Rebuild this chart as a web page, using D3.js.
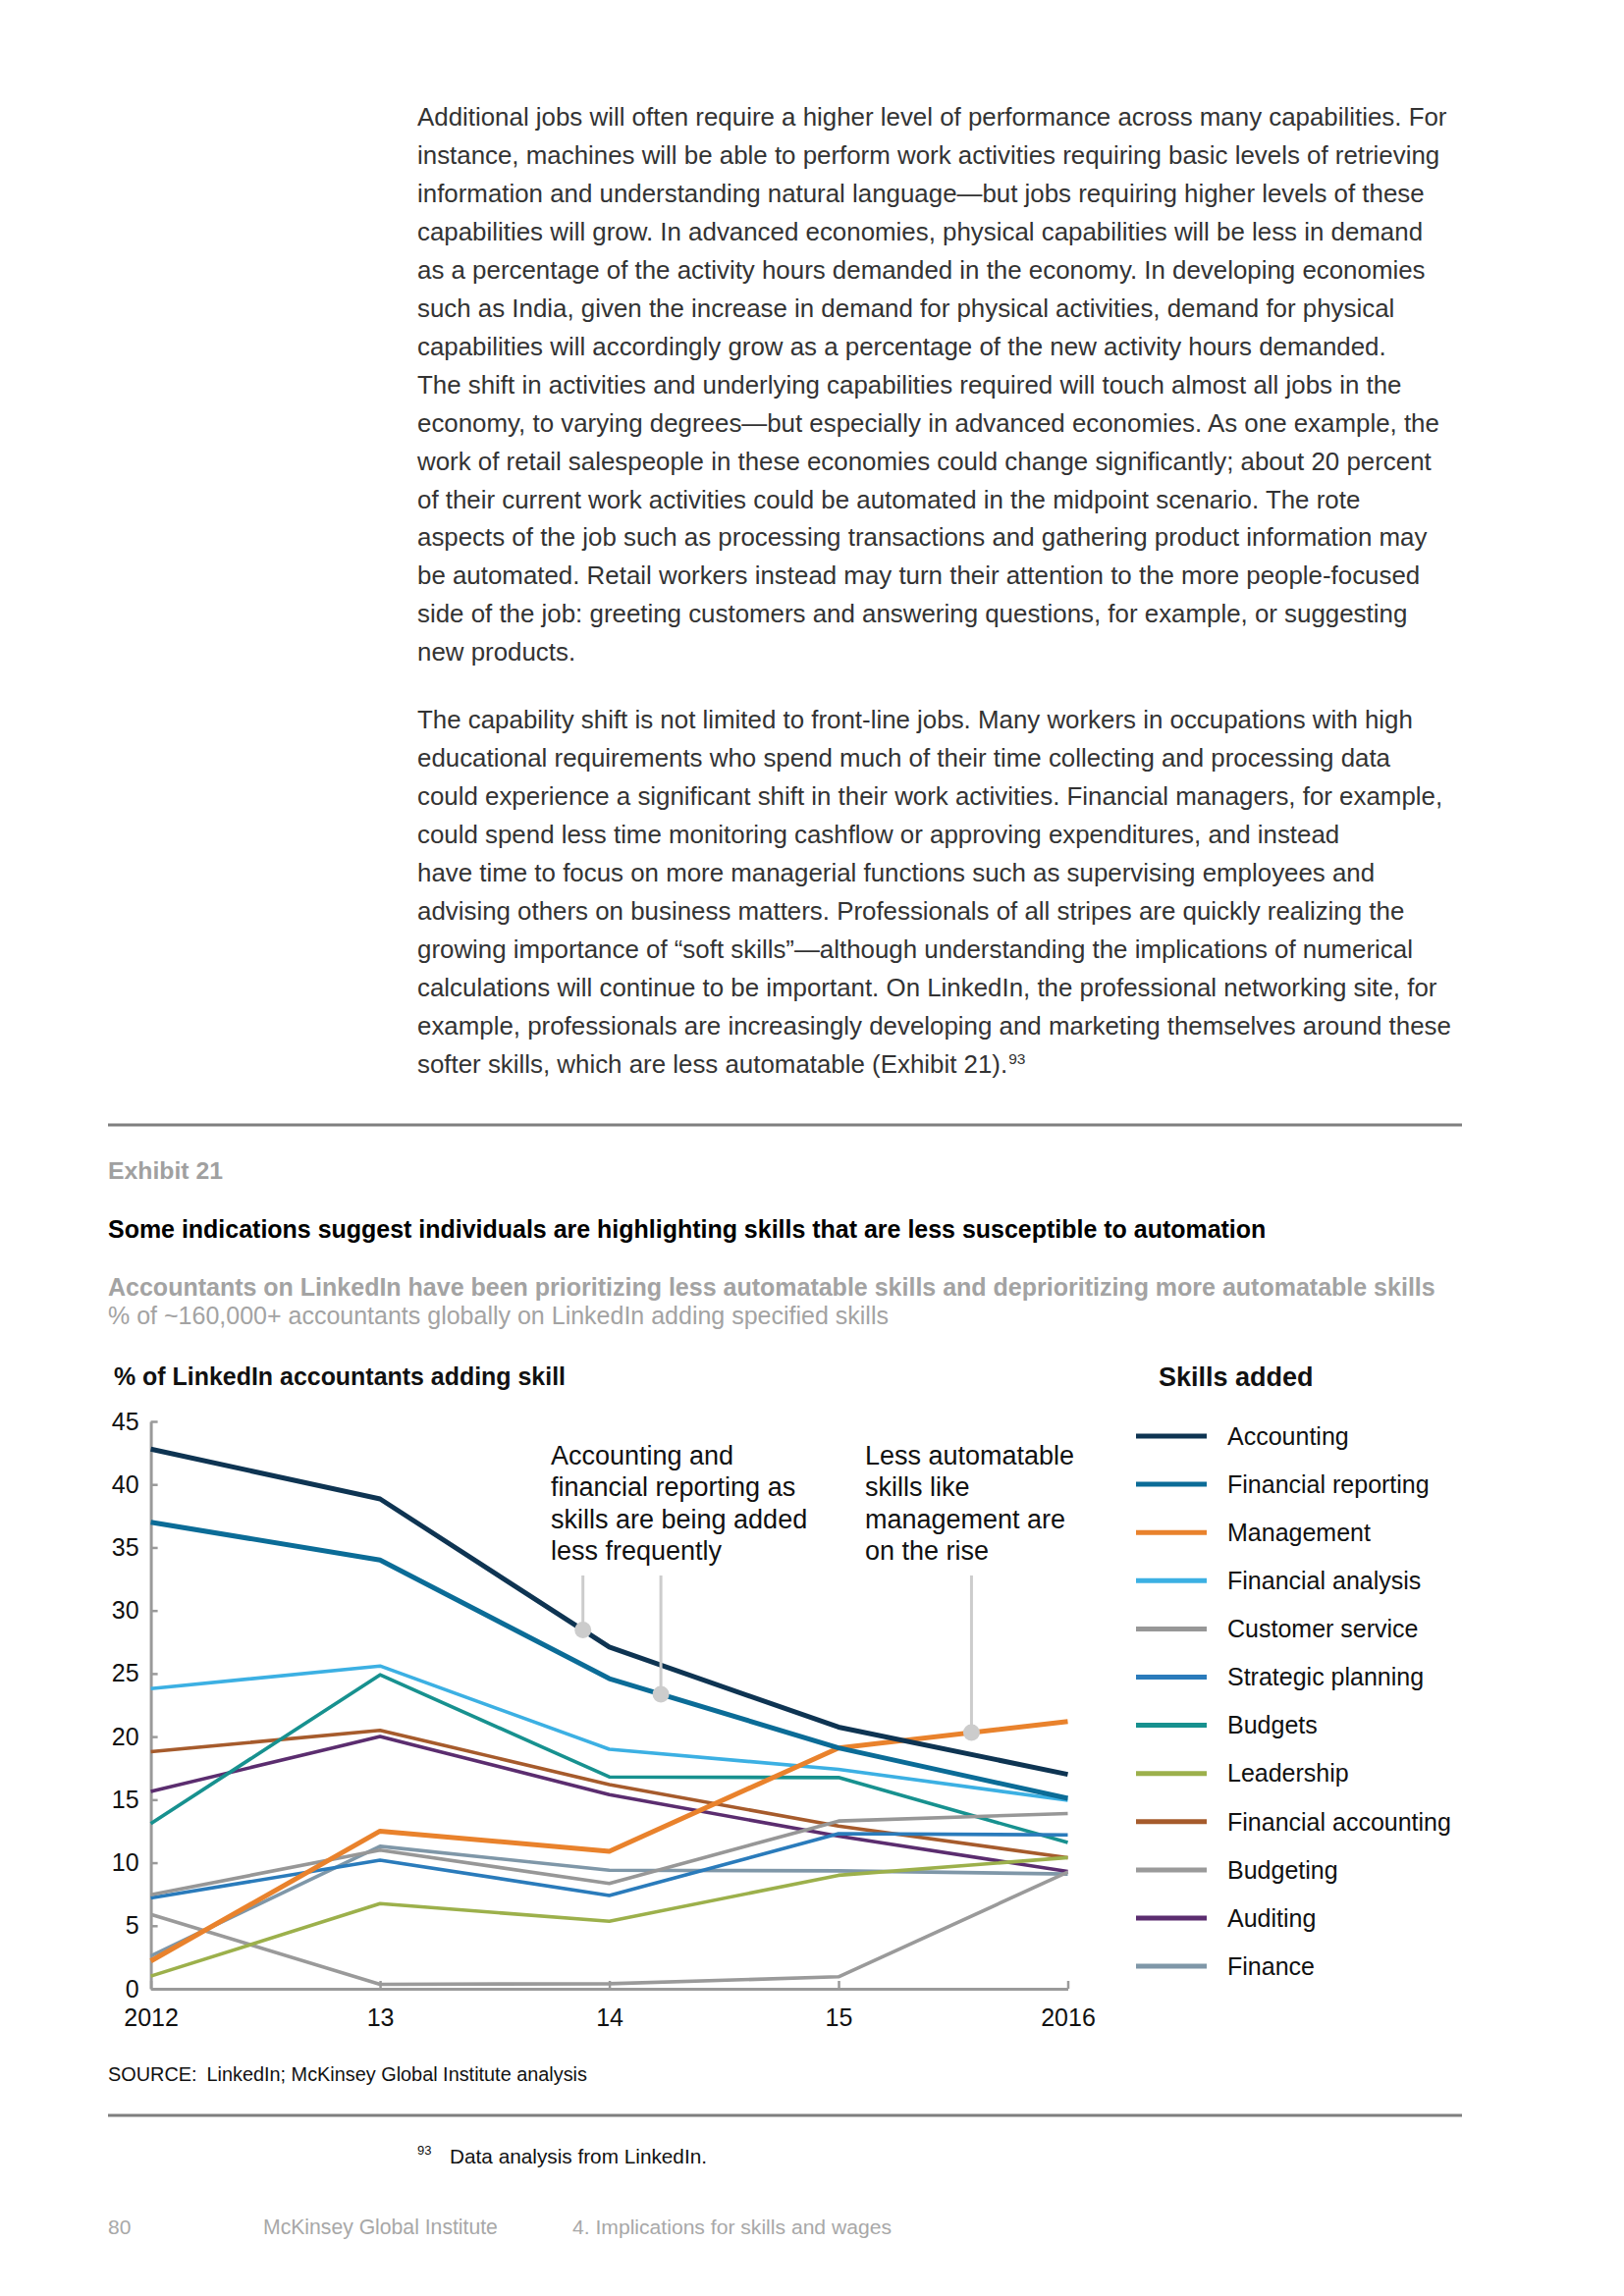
<!DOCTYPE html>
<html>
<head>
<meta charset="utf-8">
<script src="https://cdn.jsdelivr.net/npm/d3@7"></script>
<style>
  html, body { margin: 0; padding: 0; background: #fff; }
  svg { display: block; }
  text { font-family: "Liberation Sans", Arial, Helvetica, sans-serif; }
</style>
</head>
<body>
<div id="page"></div>
<script>
// ---------------- DATA ----------------
const years = [2012, 2013, 2014, 2015, 2016];
const yearLabels = ["2012", "13", "14", "15", "2016"];
const yTicks = [0, 5, 10, 15, 20, 25, 30, 35, 40, 45];

const skills = ["Accounting", "Financial reporting", "Management", "Financial analysis",
  "Customer service", "Strategic planning", "Budgets", "Leadership",
  "Financial accounting", "Budgeting", "Auditing", "Finance"];

const accounting          = [42.8, 38.85, 27.1, 20.75, 17.0];
const financialReporting  = [37.0, 34.0, 24.6, 19.1, 15.1];
const management          = [2.2, 12.5, 10.9, 19.1, 21.2];
const financialAnalysis   = [23.8, 25.6, 19.0, 17.4, 14.95];
const customerService     = [7.45, 11.0, 8.35, 13.3, 13.9];
const strategicPlanning   = [7.2, 10.2, 7.4, 12.3, 12.2];
const budgets             = [13.1, 24.9, 16.8, 16.75, 11.6];
const leadership          = [1.0, 6.75, 5.35, 9.0, 10.4];
const financialAccounting = [18.8, 20.5, 16.2, 12.9, 10.4];
const budgeting           = [5.9, 0.35, 0.4, 0.95, 9.25];
const auditing            = [15.65, 20.0, 15.4, 12.1, 9.3];
const finance             = [2.6, 11.3, 9.4, 9.35, 9.1];

const seriesValues = [accounting, financialReporting, management, financialAnalysis,
  customerService, strategicPlanning, budgets, leadership,
  financialAccounting, budgeting, auditing, finance];

const skillColors = ["#0e3452", "#0b6c97", "#e9822c", "#3cb0e3",
  "#979797", "#2a7bbb", "#17918f", "#9cb04b",
  "#a65b2c", "#9a9a9a", "#5b2d6f", "#7f97a8"];

const annotationTexts = [
  ["Accounting and", "financial reporting as", "skills are being added", "less frequently"],
  ["Less automatable", "skills like", "management are", "on the rise"]
];
const callouts = [
  { skill: "Accounting", year: 2013.885 },
  { skill: "Financial reporting", year: 2014.225 },
  { skill: "Management", year: 2015.58 }
];

const bodyP1 = [
  "Additional jobs will often require a higher level of performance across many capabilities. For",
  "instance, machines will be able to perform work activities requiring basic levels of retrieving",
  "information and understanding natural language\u2014but jobs requiring higher levels of these",
  "capabilities will grow. In advanced economies, physical capabilities will be less in demand",
  "as a percentage of the activity hours demanded in the economy. In developing economies",
  "such as India, given the increase in demand for physical activities, demand for physical",
  "capabilities will accordingly grow as a percentage of the new activity hours demanded.",
  "The shift in activities and underlying capabilities required will touch almost all jobs in the",
  "economy, to varying degrees\u2014but especially in advanced economies. As one example, the",
  "work of retail salespeople in these economies could change significantly; about 20 percent",
  "of their current work activities could be automated in the midpoint scenario. The rote",
  "aspects of the job such as processing transactions and gathering product information may",
  "be automated. Retail workers instead may turn their attention to the more people-focused",
  "side of the job: greeting customers and answering questions, for example, or suggesting",
  "new products."
];
const bodyP2 = [
  "The capability shift is not limited to front-line jobs. Many workers in occupations with high",
  "educational requirements who spend much of their time collecting and processing data",
  "could experience a significant shift in their work activities. Financial managers, for example,",
  "could spend less time monitoring cashflow or approving expenditures, and instead",
  "have time to focus on more managerial functions such as supervising employees and",
  "advising others on business matters. Professionals of all stripes are quickly realizing the",
  "growing importance of \u201csoft skills\u201d\u2014although understanding the implications of numerical",
  "calculations will continue to be important. On LinkedIn, the professional networking site, for",
  "example, professionals are increasingly developing and marketing themselves around these",
  "softer skills, which are less automatable (Exhibit 21)."
];

const exhibitLabel = "Exhibit 21";
const exhibitTitle = "Some indications suggest individuals are highlighting skills that are less susceptible to automation";
const exhibitSub1 = "Accountants on LinkedIn have been prioritizing less automatable skills and deprioritizing more automatable skills";
const exhibitSub2 = "% of ~160,000+ accountants globally on LinkedIn adding specified skills";
const yTitle = "% of LinkedIn accountants adding skill";
const legendTitle = "Skills added";

// ---------------- DRAW ----------------
const W = 1654, H = 2339;
const svg = d3.select("#page").append("svg").attr("width", W).attr("height", H);
svg.append("rect").attr("width", W).attr("height", H).attr("fill", "#fff");

function fitWidth(sel, target) {
  const len = sel.node().getComputedTextLength();
  const fs = parseFloat(sel.attr("font-size"));
  sel.attr("font-size", (fs * target / len).toFixed(2));
  return fs * target / len;
}

// Body text
const bodyG = svg.append("g");
const probe = bodyG.append("text").attr("font-size", 24).text(bodyP1[0]);
const bodyFs = 24 * 1049 / probe.node().getComputedTextLength();
probe.remove();
function bodyLines(lines, y0) {
  lines.forEach((l, i) => {
    bodyG.append("text").attr("x", 425).attr("y", y0 + i * 38.95)
      .attr("font-size", bodyFs).attr("fill", "#333").text(l);
  });
}
bodyLines(bodyP1, 128);
bodyLines(bodyP2, 742);
// superscript on last line
{
  const last = bodyG.selectAll("text").filter((d, i, n) => d3.select(n[i]).text() === bodyP2[bodyP2.length - 1]);
  last.append("tspan").attr("font-size", bodyFs * 0.6).attr("dy", -9).attr("dx", 1).text("93");
}

// Rules
svg.append("line").attr("x1", 110).attr("x2", 1489).attr("y1", 1146).attr("y2", 1146)
  .attr("stroke", "#7f7f7f").attr("stroke-width", 3);
svg.append("line").attr("x1", 110).attr("x2", 1489).attr("y1", 2155).attr("y2", 2155)
  .attr("stroke", "#7f7f7f").attr("stroke-width", 3);

// Header texts
fitWidth(svg.append("text").attr("x", 110).attr("y", 1201).attr("font-size", 22)
  .attr("font-weight", "bold").attr("fill", "#a0a0a0").text(exhibitLabel), 117);
fitWidth(svg.append("text").attr("x", 110).attr("y", 1261).attr("font-size", 22)
  .attr("font-weight", "bold").attr("fill", "#000").text(exhibitTitle), 1180);
fitWidth(svg.append("text").attr("x", 110).attr("y", 1320).attr("font-size", 22)
  .attr("font-weight", "bold").attr("fill", "#a3a3a3").text(exhibitSub1), 1352);
fitWidth(svg.append("text").attr("x", 110).attr("y", 1349).attr("font-size", 22)
  .attr("fill", "#a3a3a3").text(exhibitSub2), 795);

fitWidth(svg.append("text").attr("x", 116).attr("y", 1411).attr("font-size", 24)
  .attr("font-weight", "bold").attr("fill", "#111").text(yTitle), 460);

// Scales
const x = d3.scaleLinear().domain([years[0], years[years.length - 1]]).range([153.6, 1087.5]);
const y = d3.scaleLinear().domain([0, 45]).range([2026, 1448]);

// Axes
const yAxis = svg.append("g").attr("transform", `translate(${x(years[0])},0)`)
  .call(d3.axisLeft(y).tickValues(yTicks).tickSizeInner(-7).tickSizeOuter(0).tickPadding(12));
yAxis.select(".domain").attr("stroke", "#9a9a9a").attr("stroke-width", 3);
yAxis.selectAll(".tick line").attr("stroke", "#9a9a9a").attr("stroke-width", 2.5);
yAxis.selectAll(".tick text").attr("font-size", 25).attr("fill", "#111")
  .attr("font-family", "'Liberation Sans', Arial, sans-serif");

const xAxis = svg.append("g").attr("transform", `translate(0,${y(0)})`)
  .call(d3.axisBottom(x).tickValues(years).tickFormat((d, i) => yearLabels[i])
    .tickSizeInner(-8).tickSizeOuter(0).tickPadding(20));
xAxis.select(".domain").attr("stroke", "#9a9a9a").attr("stroke-width", 3);
xAxis.selectAll(".tick line").attr("stroke", "#9a9a9a").attr("stroke-width", 2.5);
xAxis.selectAll(".tick text").attr("font-size", 25).attr("fill", "#111")
  .attr("font-family", "'Liberation Sans', Arial, sans-serif");

// Lines
const line = d3.line().x((d, i) => x(years[i])).y(d => y(d));
const linesG = svg.append("g");
for (let k = skills.length - 1; k >= 0; k--) {
  const major = k <= 2;
  linesG.append("path").datum(seriesValues[k])
    .attr("d", line).attr("fill", "none")
    .attr("stroke", skillColors[k]).attr("stroke-width", major ? 5 : 3.6)
    .attr("stroke-linejoin", "round");
}

// Annotation texts
const annX = [561, 881];
annotationTexts.forEach((lines, j) => {
  lines.forEach((l, i) => {
    svg.append("text").attr("x", annX[j]).attr("y", 1492 + i * 32.3)
      .attr("font-size", 27).attr("fill", "#111").text(l);
  });
});

// Callouts
function valueAt(vals, yr) {
  const i = Math.min(Math.floor(yr - years[0]), years.length - 2);
  const t = yr - years[i];
  return vals[i] + (vals[i + 1] - vals[i]) * t;
}
callouts.forEach(c => {
  const vals = seriesValues[skills.indexOf(c.skill)];
  const cx = x(c.year), cy = y(valueAt(vals, c.year));
  svg.append("line").attr("x1", cx).attr("x2", cx).attr("y1", 1605).attr("y2", cy)
    .attr("stroke", "#cccccc").attr("stroke-width", 3);
  svg.append("circle").attr("cx", cx).attr("cy", cy).attr("r", 8.5).attr("fill", "#cccccc");
});

// Legend
svg.append("text").attr("x", 1180).attr("y", 1412).attr("font-size", 27)
  .attr("font-weight", "bold").attr("fill", "#111").text(legendTitle);
const leg = svg.append("g");
skills.forEach((s, i) => {
  const yy = 1463 + i * 49.1;
  leg.append("line").attr("x1", 1157).attr("x2", 1229).attr("y1", yy).attr("y2", yy)
    .attr("stroke", skillColors[i]).attr("stroke-width", 5);
  leg.append("text").attr("x", 1250).attr("y", yy).attr("dy", "0.35em")
    .attr("font-size", 25).attr("fill", "#111").text(s);
});

// Source
{
  const t = svg.append("text").attr("x", 110).attr("y", 2120).attr("font-size", 19).attr("fill", "#111");
  t.append("tspan").text("SOURCE:");
  t.append("tspan").attr("dx", 10).text("LinkedIn; McKinsey Global Institute analysis");
  fitWidth(t, 478);
}

// Footnote
svg.append("text").attr("x", 425).attr("y", 2195).attr("font-size", 13).attr("fill", "#111").text("93");
fitWidth(svg.append("text").attr("x", 458).attr("y", 2204).attr("font-size", 20)
  .attr("fill", "#111").text("Data analysis from LinkedIn."), 262);

// Footer
svg.append("text").attr("x", 110).attr("y", 2276).attr("font-size", 21).attr("fill", "#a8a8a8").text("80");
fitWidth(svg.append("text").attr("x", 268).attr("y", 2276).attr("font-size", 21)
  .attr("fill", "#a8a8a8").text("McKinsey Global Institute"), 239);
fitWidth(svg.append("text").attr("x", 583).attr("y", 2276).attr("font-size", 21)
  .attr("fill", "#a8a8a8").text("4. Implications for skills and wages"), 325);
</script>
</body>
</html>
